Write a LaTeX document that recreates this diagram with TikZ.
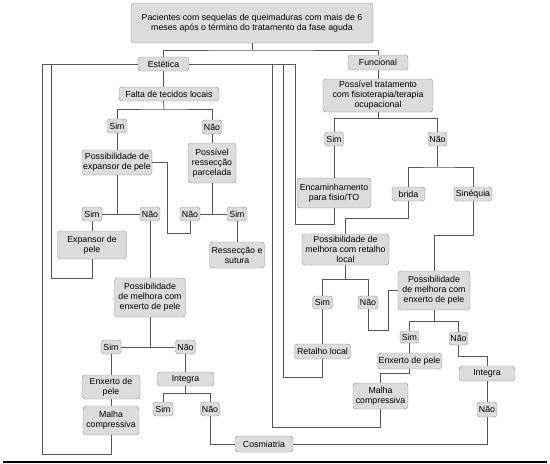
\documentclass[tikz,border=0pt]{standalone}
\usepackage{fontspec}
\setmainfont{Liberation Sans}
\usepackage{tikz}
\definecolor{caixacinza}{HTML}{DCDCDC}
\definecolor{bordacinza}{HTML}{8C8C8C}
\definecolor{linhacinza}{HTML}{555555}
\tikzset{
  caixa/.style={draw=bordacinza, fill=caixacinza, rounded corners=3pt, inner sep=0pt,
    align=center, font=\fontsize{8.8}{10}\selectfont},
  ligacao/.style={draw=linhacinza, line width=0.7pt}
}

\begin{document}
\begin{tikzpicture}[x=1pt, y=-1pt]
\useasboundingbox (0,0) rectangle (550,464);

\node[caixa, minimum width=242, minimum height=40] (topo) at (252,23) {Pacientes com sequelas de queimaduras com mais de 6\\meses após o término do tratamento da fase aguda};
\node[caixa, minimum width=51, minimum height=14] (est) at (163.5,64) {Estética};
\node[caixa, minimum width=60, minimum height=15] (func) at (378,62.5) {Funcional};

% lado estetico
\node[caixa, minimum width=100, minimum height=14] (falta) at (169,94) {Falta de tecidos locais};
\node[caixa, minimum width=20, minimum height=14] (simA) at (117,126) {Sim};
\node[caixa, minimum width=20, minimum height=14] (naoA) at (212,127) {Não};
\node[caixa, minimum width=70, minimum height=25] (expA) at (117,162.5) {Possibilidade de\\expansor de pele};
\node[caixa, minimum width=48, minimum height=40] (resA) at (212,163) {Possível\\ressecção\\parcelada};
\node[caixa, minimum width=20, minimum height=14] (simB) at (92,214) {Sim};
\node[caixa, minimum width=20, minimum height=14] (naoB) at (150,214) {Não};
\node[caixa, minimum width=20, minimum height=14] (naoC) at (190,214) {Não};
\node[caixa, minimum width=20, minimum height=14] (simC) at (237,214) {Sim};
\node[caixa, minimum width=69, minimum height=28] (expansor) at (92,245) {Expansor de\\pele};
\node[caixa, minimum width=55, minimum height=26] (ressut) at (237,255) {Ressecção e\\sutura};
\node[caixa, minimum width=71, minimum height=39] (pmA) at (150,297.5) {Possibilidade\\de melhora com\\enxerto de pele};
\node[caixa, minimum width=20, minimum height=14] (simD) at (111,347) {Sim};
\node[caixa, minimum width=20, minimum height=14] (naoD) at (185.5,347) {Não};
\node[caixa, minimum width=58, minimum height=24] (enxA) at (111,387) {Enxerto de\\pele};
\node[caixa, minimum width=56, minimum height=29] (malhaA) at (111,420.5) {Malha\\compressiva};
\node[caixa, minimum width=57, minimum height=14] (integA) at (185.5,379) {Integra};
\node[caixa, minimum width=20, minimum height=14] (simE) at (163,409) {Sim};
\node[caixa, minimum width=19, minimum height=14] (naoE) at (210,409) {Não};
\node[caixa, minimum width=58, minimum height=16] (cosm) at (264,444) {Cosmiatria};

% lado funcional
\node[caixa, minimum width=110, minimum height=33] (possT) at (378,95.5) {Possível tratamento\\com fisioterapia/terapia\\ocupacional};
\node[caixa, minimum width=19, minimum height=14] (simF) at (334,139) {Sim};
\node[caixa, minimum width=19, minimum height=14] (naoF) at (437.5,139) {Não};
\node[caixa, minimum width=74, minimum height=30] (encam) at (334,193) {Encaminhamento\\para fisio/TO};
\node[caixa, minimum width=33, minimum height=14] (brida) at (408.5,194) {brida};
\node[caixa, minimum width=38, minimum height=14] (sineq) at (473,194) {Sinéquia};
\node[caixa, minimum width=87, minimum height=31] (pmR) at (345.5,249.5) {Possibilidade de\\melhora com retalho\\local};
\node[caixa, minimum width=20, minimum height=13] (simG) at (322.5,302.5) {Sim};
\node[caixa, minimum width=20, minimum height=13] (naoG) at (368,302.5) {Não};
\node[caixa, minimum width=56, minimum height=15] (retlocal) at (322.5,351.5) {Retalho local};
\node[caixa, minimum width=72, minimum height=39] (pmB) at (434,290.5) {Possibilidade\\de melhora com\\enxerto de pele};
\node[caixa, minimum width=19, minimum height=12] (simH) at (409.5,337) {Sim};
\node[caixa, minimum width=19, minimum height=13] (naoH) at (458.5,338.5) {Não};
\node[caixa, minimum width=64, minimum height=16] (enxB) at (409.5,361) {Enxerto de pele};
\node[caixa, minimum width=55, minimum height=26] (malhaB) at (380.5,396) {Malha\\compressiva};
\node[caixa, minimum width=56, minimum height=15] (integB) at (487,373.5) {Integra};
\node[caixa, minimum width=20, minimum height=15] (naoI) at (487,409.5) {Não};

% ligacoes do topo
\draw[ligacao] (topo.south) -- (252,50) coordinate (t1);
\draw[ligacao] (est.north) |- (t1) -| (func.north);

% barra da estetica e retornos
\draw[ligacao] (42,64) -- (est.west);
\draw[ligacao] (est.east) -| (295,224) -| (encam.south);
\draw[ligacao] (272,64) -- (272,427) -| (malhaB.south);
\draw[ligacao] (283,64) -- (283,377) -| (retlocal.south);
\draw[ligacao] (51,64) -- (51,278) -| (expansor.south);
\draw[ligacao] (42,64) -- (42,454) -| (malhaA.south);

\draw[ligacao] (est.south) -- (est.south |- falta.north);
\coordinate (jA) at (164,109);
\draw[ligacao] (est.south |- falta.south) -- (jA);
\draw[ligacao] (simA.north) |- (jA) -| (naoA.north);
\draw[ligacao] (simA) -- (expA);
\draw[ligacao] (naoA) -- (resA);
\draw[ligacao] (expA.south) -- (expA.south |- simB.east);
\draw[ligacao] (simB) -- (naoB);
\draw[ligacao] (expA.east) -| (167,233) -| (naoC.south);
\draw[ligacao] (resA.south) -- (resA.south |- naoC.east);
\draw[ligacao] (naoC) -- (simC);
\draw[ligacao] (simC) -- (ressut);
\draw[ligacao] (simB) -- (expansor);
\draw[ligacao] (naoB) -- (pmA);
\draw[ligacao] (pmA.south) -- (pmA.south |- simD.east);
\draw[ligacao] (simD) -- (naoD);
\draw[ligacao] (simD) -- (enxA);
\draw[ligacao] (enxA) -- (malhaA);
\draw[ligacao] (naoD) -- (integA);
\draw[ligacao] (integA.south) -- ++(0,7) coordinate (jI);
\draw[ligacao] (simE.north) |- (jI) -| (naoE.north);
\draw[ligacao] (naoE.south) |- (cosm.west);
\draw[ligacao] (naoI.south) |- (cosm.east);

% funcional
\draw[ligacao] (func) -- (possT);
\draw[ligacao] (possT.south) -- ++(0,6) coordinate (jF);
\draw[ligacao] (simF.north) |- (jF) -| (naoF.north);
\draw[ligacao] (simF) -- (encam);
\coordinate (jN) at (437.5,167);
\draw[ligacao] (naoF.south) -- (jN);
\draw[ligacao] (brida.north) |- (jN) -| (sineq.north);
\draw[ligacao] (brida.south) -- (408.5,218) -| (pmR.north);
\draw[ligacao] (pmR.south) -- ++(0,14) coordinate (jR);
\draw[ligacao] (simG.north) |- (jR) -| (naoG.north);
\draw[ligacao] (simG) -- (retlocal);
\draw[ligacao] (naoG.south) |- (388,330) |- (pmB.west);
\draw[ligacao] (sineq.south) -- (473,235) -| (pmB.north);
\draw[ligacao] (pmB.south) -- ++(0,11) coordinate (jB);
\draw[ligacao] (simH.north) |- (jB) -| (naoH.north);
\draw[ligacao] (simH) -- (enxB);
\draw[ligacao] (enxB.south) -- ++(0,4) -| (malhaB.north);
\draw[ligacao] (naoH.south) -- (458.5,356) -| (integB.north);
\draw[ligacao] (integB) -- (naoI);

\draw[line width=1.5pt] (3,462) -- (547,462);
%\draw[help lines] (0,0) grid[step=50] (550,464);
\end{tikzpicture}
\end{document}
